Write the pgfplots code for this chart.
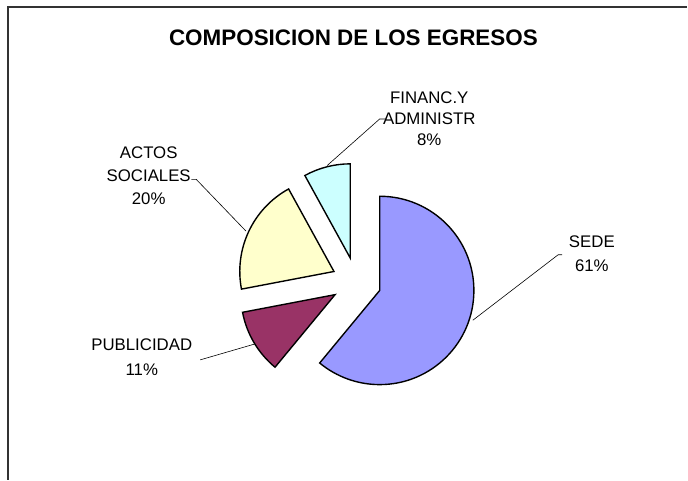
\documentclass[border=0pt]{standalone}
\usepackage{pgfplots}
\pgfplotsset{compat=1.18}
\usepackage{fontspec}
\setmainfont{Liberation Sans}
\usetikzlibrary{calc}
\definecolor{sede}{HTML}{9999FF}
\definecolor{publi}{HTML}{993366}
\definecolor{actos}{HTML}{FFFFCC}
\definecolor{financ}{HTML}{CCFFFF}
\definecolor{frame}{HTML}{333333}
\begin{document}
\begin{tikzpicture}
\begin{axis}[scale only axis, width=688bp, height=479bp,
  xmin=0, xmax=688, ymin=0, ymax=479, hide axis, clip=false]
\path (axis cs:0,0) rectangle (axis cs:688,479);
% frame
\addplot[frame, line width=2bp, no markers] coordinates {(8,-5) (8,472) (693,472)};
% pie: shares 61, 11, 20, 8 (percent); 1 percent = 3.6 degrees
% SEDE 61
\filldraw[fill=sede, draw=black, line width=1.4bp]
  ($(axis cs:359.5,194.5)+({90-61*3.6/2}:25bp)$) -- ++(90:95bp)
  arc[start angle=90, end angle={90-61*3.6}, radius=95bp] -- cycle;
% PUBLICIDAD 11
\filldraw[fill=publi, draw=black, line width=1.4bp]
  ($(axis cs:359.5,194.5)+({90-61*3.6-11*3.6/2}:25bp)$) -- ++({90-61*3.6}:95bp)
  arc[start angle={90-61*3.6}, end angle={90-72*3.6}, radius=95bp] -- cycle;
% ACTOS SOCIALES 20
\filldraw[fill=actos, draw=black, line width=1.4bp]
  ($(axis cs:359.5,194.5)+({90-72*3.6-20*3.6/2}:25bp)$) -- ++({90-72*3.6}:95bp)
  arc[start angle={90-72*3.6}, end angle={90-92*3.6}, radius=95bp] -- cycle;
% FINANC.Y ADMINISTR 8
\filldraw[fill=financ, draw=black, line width=1.4bp]
  ($(axis cs:359.5,194.5)+({90-92*3.6-8*3.6/2}:25bp)$) -- ++({90-92*3.6}:95bp)
  arc[start angle={90-92*3.6}, end angle={90-100*3.6}, radius=95bp] -- cycle;
% leader lines
\addplot[black, line width=0.6bp, no markers] coordinates {(330,312) (383,359) (389,359)};
\addplot[black, line width=0.6bp, no markers] coordinates {(248,246) (198,298) (193,298)};
\addplot[black, line width=0.6bp, no markers] coordinates {(257,132) (202,116)};
\addplot[black, line width=0.6bp, no markers] coordinates {(477,156) (563,222) (567,222)};
% title
\node[font=\fontsize{22.7}{26}\selectfont\bfseries] at (axis cs:356.5,441) {COMPOSICION DE LOS EGRESOS};
% labels
\node[align=center, font=\fontsize{17}{21.5}\selectfont] at (axis cs:433,359) {FINANC.Y\\ADMINISTR\\8\%};
\node[align=center, font=\fontsize{17}{23.5}\selectfont] at (axis cs:150,302) {ACTOS\\SOCIALES\\20\%};
\node[align=center, font=\fontsize{17}{25}\selectfont] at (axis cs:143,119) {PUBLICIDAD\\11\%};
\node[align=center, font=\fontsize{17}{24}\selectfont] at (axis cs:597,223) {SEDE\\61\%};
\end{axis}
\end{tikzpicture}
\end{document}
